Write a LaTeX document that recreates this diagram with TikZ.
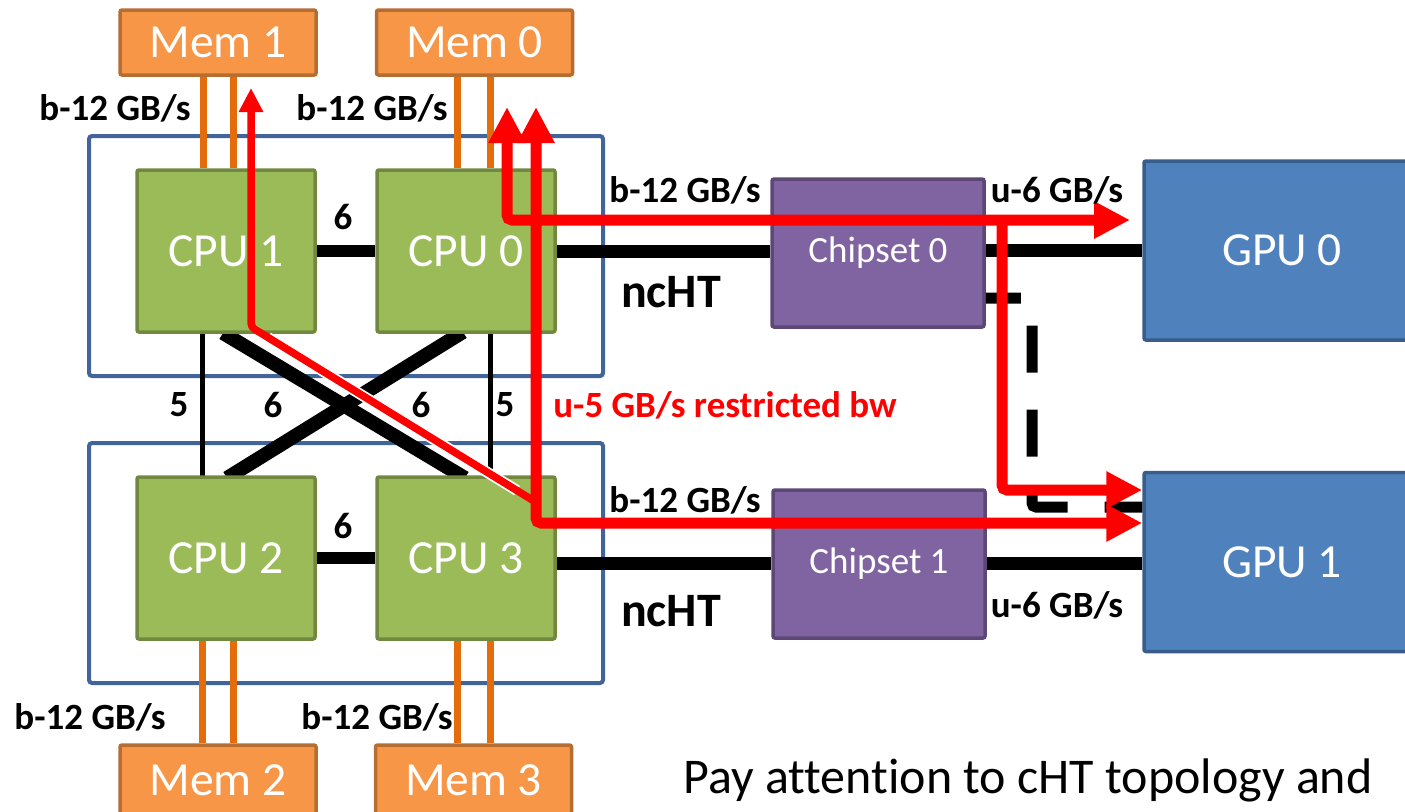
\documentclass[tikz,border=0pt]{standalone}
\usepackage{fontspec}
\setmainfont{Carlito}[Ligatures=CommonOff]
\usetikzlibrary{arrows.meta,calc}
\definecolor{memfill}{HTML}{F79646}
\definecolor{memdraw}{HTML}{B66D31}
\definecolor{orangeline}{HTML}{E46C0A}
\definecolor{cpufill}{HTML}{9BBB59}
\definecolor{cpudraw}{HTML}{71893F}
\definecolor{chipfill}{HTML}{8064A2}
\definecolor{chipdraw}{HTML}{5C4776}
\definecolor{gpufill}{HTML}{4F81BD}
\definecolor{gpudraw}{HTML}{385D8A}
\definecolor{framecol}{HTML}{41659A}
\definecolor{routered}{HTML}{FF0000}
\begin{document}
\begin{tikzpicture}[x=1pt,y=-1pt,
  box/.style={rectangle, inner sep=0pt, line width=3.5pt, rounded corners=2pt, text=white, font=\fontsize{47.5}{56}\selectfont},
  boxtext/.style={text=white, font=\fontsize{47.5}{56}\selectfont, inner sep=0pt},
  mem/.style={box, fill=memfill, draw=memdraw, minimum width=196pt, minimum height=65pt},
  cpu/.style={box, fill=cpufill, draw=cpudraw, minimum width=178pt, minimum height=162pt},
  chip/.style={box, fill=chipfill, draw=chipdraw, minimum width=212pt, minimum height=148pt, font=\fontsize{37}{44}\selectfont},
  gpu/.style={box, fill=gpufill, draw=gpudraw, minimum width=276pt, minimum height=179pt},
  socket/.style={draw=framecol, line width=4pt, rounded corners=3pt},
  lbl/.style={font=\bfseries\fontsize{37}{44}\selectfont, inner sep=0pt},
  biglbl/.style={font=\bfseries\fontsize{48}{56}\selectfont, inner sep=0pt},
  memlink/.style={orangeline, line width=7pt},
  cht/.style={black, line width=12pt},
  xlink/.style={black, line width=14pt},
  thinlink/.style={black, line width=5pt},
  ncht/.style={black, line width=13pt},
  route/.style={routered, line width=11pt, rounded corners=5pt},
  bothtips/.style={{Triangle[length=36pt,width=35pt]}-{Triangle[length=36pt,width=35pt]}},
  endtip/.style={-{Triangle[length=36pt,width=35pt]}},
  smalltip/.style={-{Triangle[length=24pt,width=23pt]}}
]
\useasboundingbox (0,0) rectangle (1405,811);

% sockets
\node[socket, minimum width=514pt, minimum height=240pt, inner sep=0pt] (sock0) at (346,256) {};
\node[socket, minimum width=514pt, minimum height=240pt, inner sep=0pt] (sock1) at (346,563) {};

% coordinates for CPU centres
\coordinate (c1) at (226,251);
\coordinate (c0) at (466,251);
\coordinate (c2) at (226,558);
\coordinate (c3) at (466,558);

% boxes
\node[mem] (mem1) at (218,42.5) {Mem 1};
\node[mem] (mem0) at (474.5,42.5) {Mem 0};
\node[mem, minimum height=75pt] (mem2) at (218,782.5) {};
\node[mem, minimum height=75pt] (mem3) at (473.5,782.5) {};
\node[boxtext] (mem2t) at (218,780) {Mem 2};
\node[boxtext] (mem3t) at (473.5,780) {Mem 3};

% CPU links (under CPU boxes)
\draw[thinlink] (202,332) coordinate (v1a) -- (202,477) coordinate (v1b);
\draw[thinlink] (490,332) coordinate (v0a) -- (490,477) coordinate (v0b);
\draw[xlink] (223,333) coordinate (xa) -- (465,478) coordinate (xb);
\draw[xlink] (463,332) coordinate (xc) -- (227,478) coordinate (xd);

\node[cpu] (cpu1) at (c1) {CPU 1};
\node[cpu] (cpu0) at (c0) {CPU 0};
\node[cpu] (cpu2) at (c2) {CPU 2};
\node[cpu] (cpu3) at (c3) {CPU 3};

\draw[cht] (cpu1.east) -- (cpu0.west);
\draw[cht] (cpu2.east) -- (cpu3.west);

% memory links
\draw[memlink] ([xshift=-15pt]mem1.south) -- ([xshift=-15pt]mem1.south |- cpu1.north);
\draw[memlink] ([xshift=15pt]mem1.south) -- ([xshift=15pt]mem1.south |- cpu1.north);
\draw[memlink] ([xshift=-17.5pt]mem0.south) -- ([xshift=-17.5pt]mem0.south |- cpu0.north);
\draw[memlink] ([xshift=15.5pt]mem0.south) -- ([xshift=15.5pt]mem0.south |- cpu0.north);
\draw[memlink] ([xshift=-16pt]mem2.north) -- ([xshift=-16pt]mem2.north |- cpu2.south);
\draw[memlink] ([xshift=15pt]mem2.north) -- ([xshift=15pt]mem2.north |- cpu2.south);
\draw[memlink] ([xshift=-16.5pt]mem3.north) -- ([xshift=-16.5pt]mem3.north |- cpu3.south);
\draw[memlink] ([xshift=16.5pt]mem3.north) -- ([xshift=16.5pt]mem3.north |- cpu3.south);

% chipsets and GPUs
\node[chip] (chip0) at (878,253) {Chipset 0};
\node[chip] (chip1) at (879,564) {Chipset 1};
\node[gpu] (gpu0) at (1282,250.5) {GPU 0};
\node[gpu] (gpu1) at (1282,562) {GPU 1};

% ncHT links
\draw[ncht] (cpu0.east |- 0,251) -- (chip0.west |- 0,251);
\draw[ncht] (chip0.east |- 0,250) -- (gpu0.west |- 0,250);
\draw[ncht] (cpu3.east |- 0,563) -- (chip1.west |- 0,563);
\draw[ncht] (chip1.east |- 0,563) -- (gpu1.west |- 0,563);

% dashed link chipset 0 -> GPU 1
\coordinate (d1) at (1032,298);
\coordinate (d2) at (1032,507);
\draw[black, line width=11pt, dash pattern=on 47pt off 37pt, dash phase=12pt, rounded corners=4pt]
  (chip0.east |- d1) -- (d1) -- (d2) -- (gpu1.west |- d2);

% red routes
\coordinate (r0top) at (507,107);
\coordinate (r0turn) at (507,220);
\coordinate (r0end) at (1130,220);
\coordinate (rbr) at (1002,220);
\coordinate (rbturn) at (1002,490);
\coordinate (r3top) at (536,107);
\coordinate (r3turn) at (536,523);
\coordinate (r1top) at (251,88);
\coordinate (r1turn) at (251,327);
\coordinate (r1join) at (534,501);

\draw[route, bothtips] (r0top) -- (r0turn) -- (r0end);
\draw[route, endtip] (rbr) -- (rbturn) -- (gpu1.west |- rbturn);
\draw[route, bothtips] (r3top) -- (r3turn) -- (gpu1.west |- r3turn);
\draw[white, line width=11pt] ($(r1turn)!0.06!(r1join)$) -- ($(r1turn)!0.94!(r1join)$);
\draw[routered, line width=7.5pt, rounded corners=4pt, smalltip] (r1join) -- (r1turn) -- (r1top);

% labels
\node[lbl] (l1) at (115,108) {b-12 GB/s};
\node[lbl] (l2) at (372,108) {b-12 GB/s};
\node[lbl] (l3) at (90,717) {b-12 GB/s};
\node[lbl] (l4) at (377,717) {b-12 GB/s};
\node[lbl] (l5) at (685,190) {b-12 GB/s};
\node[lbl] (l6) at (1057,190) {u-6 GB/s};
\node[lbl] (l7) at (685,500) {b-12 GB/s};
\node[lbl] (l8) at (1057,605) {u-6 GB/s};
\node[biglbl] (n1) at (671,292) {ncHT};
\node[biglbl] (n2) at (671,611) {ncHT};
\node[lbl] (k1) at (343,217) {6};
\node[lbl] (k2) at (343,526) {6};
\node[lbl] (k3) at (179,405) {5};
\node[lbl] (k4) at (273,405) {6};
\node[lbl] (k5) at (421,405) {6};
\node[lbl] (k6) at (505,405) {5};
\node[lbl, text=routered] (red) at (725,405) {u-5 GB/s restricted bw};
\node[font=\fontsize{50}{58}\selectfont, inner sep=0pt] (pay) at (1028,780) {Pay attention to cHT topology and};
\end{tikzpicture}
\end{document}
